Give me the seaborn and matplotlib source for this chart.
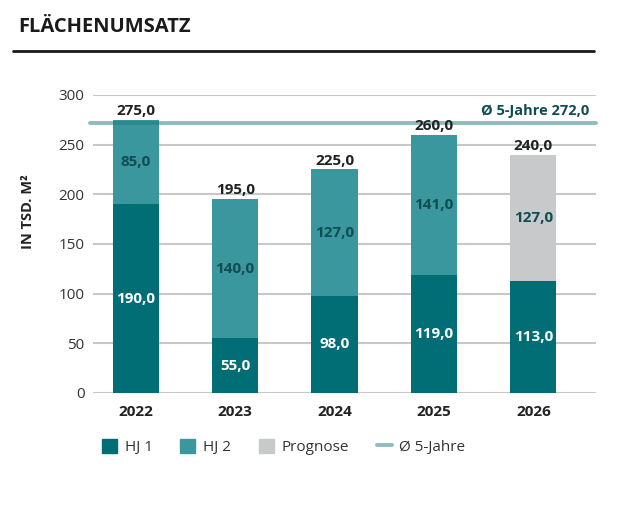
import matplotlib
matplotlib.use("Agg")
import matplotlib.pyplot as plt
import seaborn as sns
import pandas as pd
from matplotlib.patches import Patch
from matplotlib.lines import Line2D

# Daten
jahre = ['2022', '2023', '2024', '2025', '2026']
hj1 = [190.0, 55.0, 98.0, 119.0, 113.0]
hj2 = [85.0, 140.0, 127.0, 141.0, 127.0]
gesamt = [275.0, 195.0, 225.0, 260.0, 240.0]
durchschnitt = 272.0
yticks = [0, 50, 100, 150, 200, 250, 300]

# Farben
c_hj1 = '#006e74'
c_hj2 = '#3a979e'
c_prog = '#c8c9cb'
c_avg = '#1f7a78'
c_txt = '#222222'
c_dunkel = '#0f4d52'

def fmt(v):
    return f"{v:.1f}".replace('.', ',')

sns.set_style('white')
plt.rcParams['font.family'] = ['Open Sans', 'DejaVu Sans']

df = pd.DataFrame({'jahr': jahre, 'hj1': hj1, 'gesamt': gesamt})

fig = plt.figure(figsize=(6.36, 5.05), dpi=100)
ax = fig.add_axes([0.1462, 0.2218, 0.7909, 0.5901])

# Gesamtbalken (obere Segmente), 2026 als Prognose grau
farben_oben = [c_hj2, c_hj2, c_hj2, c_hj2, c_prog]
sns.barplot(data=df, x='jahr', y='gesamt', hue='jahr', palette=farben_oben,
            width=0.465, legend=False, ax=ax, saturation=1, linewidth=0, zorder=2)
# HJ 1 darueber
sns.barplot(data=df, x='jahr', y='hj1', color=c_hj1, width=0.465,
            ax=ax, saturation=1, linewidth=0, zorder=3)

ax.set_ylim(0, 300)
ax.set_xlim(-0.43, 4.63)
ax.set_yticks(yticks)
ax.set_yticklabels([str(t) for t in yticks], fontsize=11, color='#333333')
ax.yaxis.grid(True, color='#c8c8c8', lw=1.5, zorder=0)
ax.set_axisbelow(True)
ax.tick_params(axis='both', length=0)
ax.tick_params(axis='x', pad=9)
ax.tick_params(axis='y', pad=6)
for lab in ax.get_xticklabels():
    lab.set_fontweight('bold')
    lab.set_fontsize(11)
    lab.set_color(c_txt)
for s in ax.spines.values():
    s.set_visible(False)
ax.set_xlabel('')
ax.set_ylabel('IN TSD. M²', fontsize=10.5, fontweight='bold', color=c_txt)
ax.yaxis.set_label_coords(-0.115, 0.61)

# Beschriftungen
for i in range(len(jahre)):
    ax.text(i, hj1[i] / 2, fmt(hj1[i]), ha='center', va='center',
            color='white', fontsize=11, fontweight='bold', zorder=5)
    ax.text(i, hj1[i] + hj2[i] / 2, fmt(hj2[i]), ha='center', va='center',
            color=c_dunkel, fontsize=11, fontweight='bold', zorder=5)
    ax.text(i, gesamt[i] + 2, fmt(gesamt[i]), ha='center', va='bottom',
            color=c_txt, fontsize=11, fontweight='bold', zorder=5)

# Durchschnittslinie (halbtransparent, wirkt dunkler ueber den Balken)
ax.axhline(durchschnitt, xmin=-0.006, xmax=1, color=c_avg, alpha=0.5, lw=2.8,
           zorder=4, clip_on=False)
ax.text(4.56, durchschnitt + 5, 'Ø 5-Jahre ' + fmt(durchschnitt), ha='right',
        va='bottom', color=c_dunkel, fontsize=10.5, fontweight='bold')

# Titel und Linie
fig.text(18 / 636, 1 - 27 / 505, 'FLÄCHENUMSATZ', fontsize=14.5, fontweight='bold',
         color='#1a1a1a', va='center', ha='left')
fig.add_artist(Line2D([13 / 636, 594 / 636], [1 - 51 / 505, 1 - 51 / 505],
                      color='#1a1a1a', lw=2))

# Legende
handles = [Patch(color=c_hj1, label='HJ 1'),
           Patch(color=c_hj2, label='HJ 2'),
           Patch(color=c_prog, label='Prognose'),
           Line2D([0], [0], color=c_avg, alpha=0.5, lw=2.8, label='Ø 5-Jahre')]
fig.legend(handles=handles, loc='center left', bbox_to_anchor=(88 / 636, 1 - 447 / 505),
           ncol=4, frameon=False, fontsize=11, handlelength=1.0, handleheight=1.1,
           handletextpad=0.5, columnspacing=1.8, labelcolor='#333333')

fig.savefig('out.png', dpi=100)
